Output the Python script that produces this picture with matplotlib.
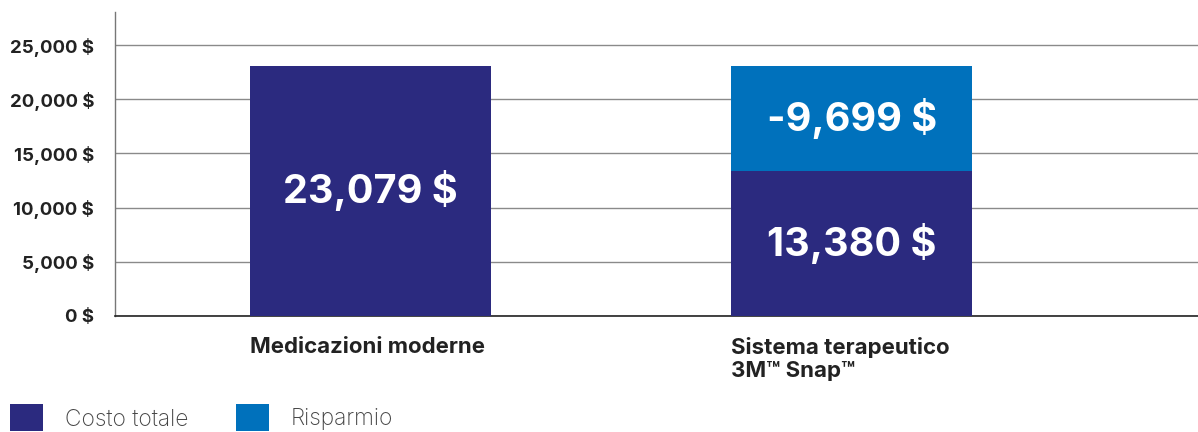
import matplotlib
matplotlib.use("Agg")
import matplotlib.pyplot as plt
from matplotlib.patches import Patch
from matplotlib.transforms import blended_transform_factory

categories = ["Medicazioni moderne", "Sistema terapeutico\n3M\u2122 Snap\u2122"]
costo_totale = [23079, 13380]
risparmio = [0, 9699]
savings_labels = [None, "-9,699 $"]
yticks = [0, 5000, 10000, 15000, 20000, 25000]
legend_labels = ["Costo totale", "Risparmio"]

NAVY = "#2B2A7F"
BLUE = "#0071BC"
TXT = "#222222"

plt.rcParams['font.family'] = ['Inter', 'DejaVu Sans']

fig = plt.figure(figsize=(11.98, 4.32), dpi=100)
ax = fig.add_axes([115/1198, 1 - 316/432, (1198 - 115)/1198, (316 - 12)/432])

x = list(range(len(categories)))
w = 0.5
ax.bar(x, costo_totale, width=w, color=NAVY, zorder=3)
ax.bar(x, risparmio, width=w, bottom=costo_totale, color=BLUE, zorder=3)

for i in x:
    ax.text(i, costo_totale[i] / 2, f"{costo_totale[i]:,} $", ha='center', va='center',
            color='white', fontsize=28.5, fontweight='bold', zorder=4)
    if risparmio[i] > 0:
        ax.text(i, costo_totale[i] + risparmio[i] / 2, savings_labels[i], ha='center',
                va='center', color='white', fontsize=28.5, fontweight='bold', zorder=4)

ax.set_xlim(-0.531, 1.72)
ax.set_ylim(0, 28050)
ax.set_yticks(yticks)
ax.set_yticklabels([f"{v:,} $" for v in yticks], fontsize=13.4, fontweight='bold', color=TXT)
ax.tick_params(axis='y', length=0, pad=15)
ax.set_xticks([])
ax.grid(axis='y', color='#8a8a8a', linewidth=1.0, zorder=0)
for s in ['top', 'right']:
    ax.spines[s].set_visible(False)
ax.spines['left'].set_color('#777777')
ax.spines['left'].set_linewidth(1.0)
ax.spines['bottom'].set_color('#222222')
ax.spines['bottom'].set_linewidth(1.2)

trans = blended_transform_factory(ax.transData, fig.transFigure)
for i, c in enumerate(categories):
    ax.text(i - w / 2, 1 - 337/432, c, transform=trans, ha='left', va='top',
            fontsize=16, fontweight='bold', color=TXT, linespacing=1.2)

handles = [Patch(facecolor=NAVY), Patch(facecolor=BLUE)]
fig.legend(handles, legend_labels, loc='upper left', bbox_to_anchor=(-8/1198, 1 - 386/432),
           ncol=2, frameon=False, fontsize=16.4, handlelength=1.45, handleheight=1.45,
           handletextpad=0.95, columnspacing=2.1, borderpad=0.3,
           labelcolor='#444444', prop={'weight': 'light', 'size': 16.4})

fig.savefig("out.png", dpi=100)
